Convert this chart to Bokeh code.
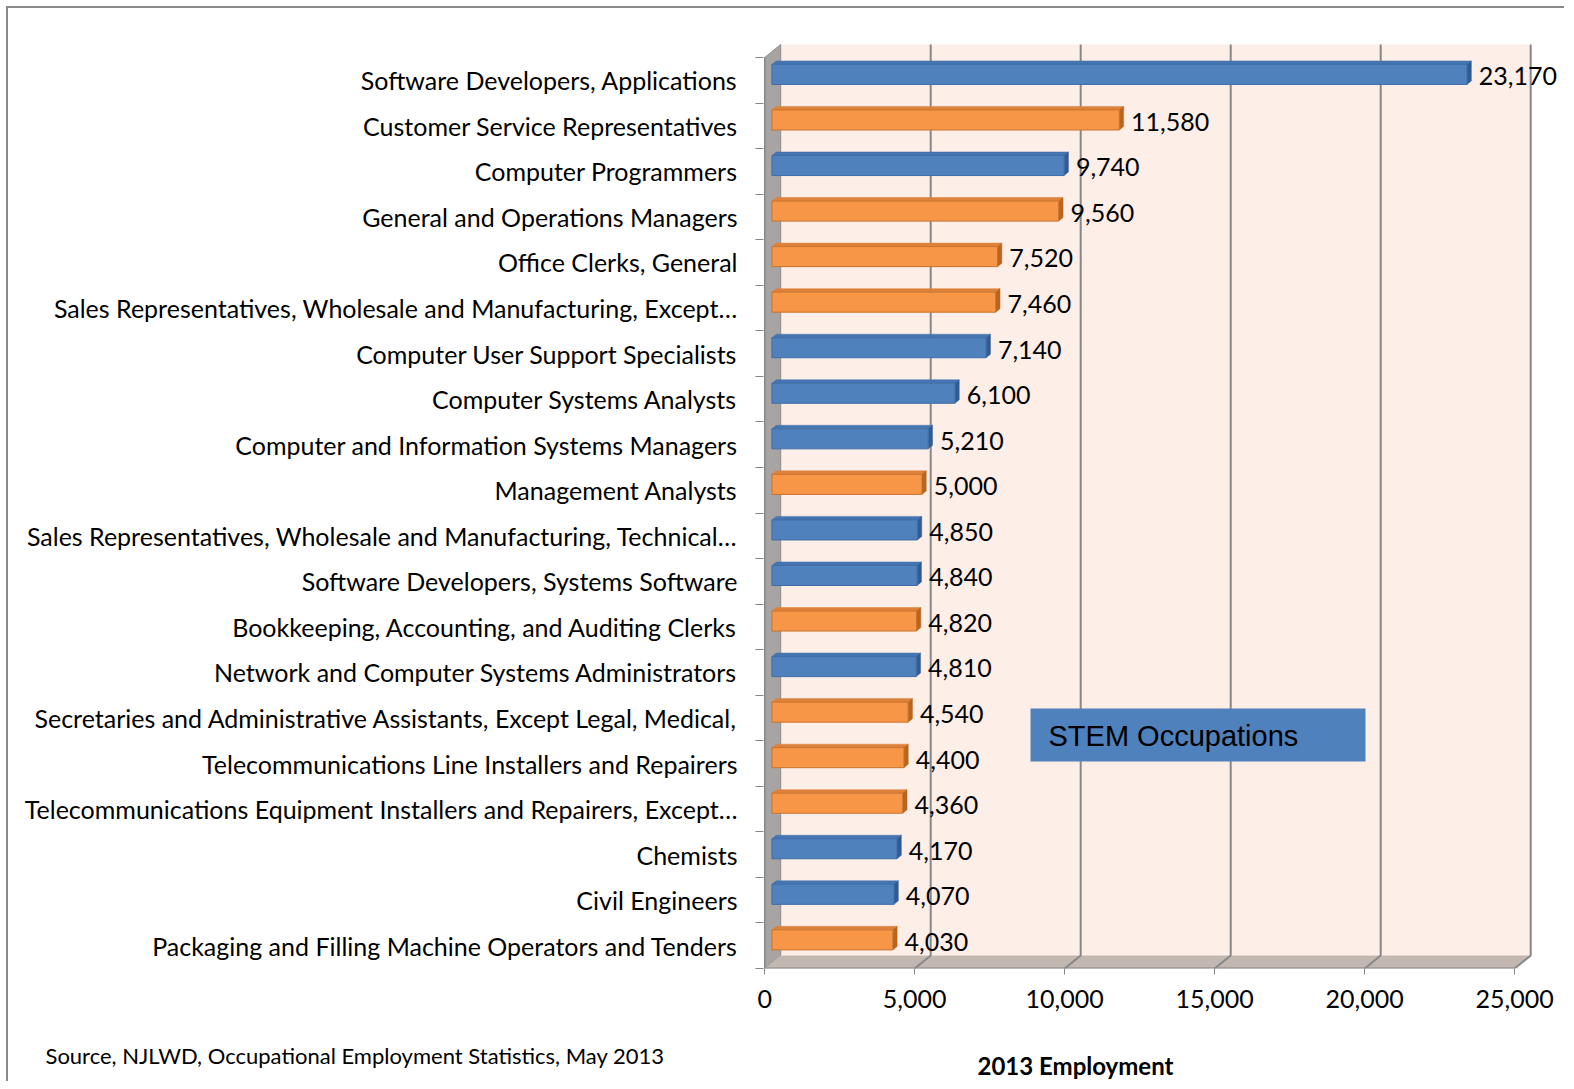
from bokeh.plotting import figure
from bokeh.models import ColumnDataSource, FixedTicker, NumeralTickFormatter, Label, BoxAnnotation, Range1d
from bokeh.core.properties import value
from bokeh.embed import file_html
from bokeh.resources import INLINE

# ---------------- data (top to bottom) ----------------
occupations = [
    "Software Developers, Applications",
    "Customer Service Representatives",
    "Computer Programmers",
    "General and Operations Managers",
    "Office Clerks, General",
    "Sales Representatives, Wholesale and Manufacturing, Except\u2026",
    "Computer User Support Specialists",
    "Computer Systems Analysts",
    "Computer and Information Systems Managers",
    "Management Analysts",
    "Sales Representatives, Wholesale and Manufacturing, Technical\u2026",
    "Software Developers, Systems Software",
    "Bookkeeping, Accounting, and Auditing Clerks",
    "Network and Computer Systems Administrators",
    "Secretaries and Administrative Assistants, Except Legal, Medical,",
    "Telecommunications Line Installers and Repairers",
    "Telecommunications Equipment Installers and Repairers, Except\u2026",
    "Chemists",
    "Civil Engineers",
    "Packaging and Filling Machine Operators and Tenders",
]
employment = [23170, 11580, 9740, 9560, 7520, 7460, 7140, 6100, 5210, 5000,
              4850, 4840, 4820, 4810, 4540, 4400, 4360, 4170, 4070, 4030]
is_stem = [True, False, True, False, False, False, True, True, True, False,
           True, True, False, True, False, False, False, True, True, False]
x_ticks = [0, 5000, 10000, 15000, 20000, 25000]
x_title = "2013 Employment"
source_note = "Source, NJLWD, Occupational Employment Statistics, May 2013"
legend_text = "STEM Occupations"

# ---------------- styling ----------------
FONT = "Lato"
STEM_FACE, STEM_TOP, STEM_CAP, STEM_EDGE = "#4F81BD", "#4674B0", "#2F5C93", "#3F6DA8"
OTH_FACE, OTH_TOP, OTH_CAP, OTH_EDGE = "#F79646", "#DE813A", "#B7651F", "#C9732F"
WALL = "#FDEEE7"
GRID = "#878787"

n = len(occupations)
ypos = [n - 1 - i for i in range(n)]
XMAX = x_ticks[-1]

PX_X = 0.03          # pixels per data unit in x
PX_Y = 45.55         # pixels per category
DX = 16 / PX_X       # depth offset in x data units
DY = 13 / PX_Y       # depth offset in y data units
f1, f2 = 0.45, 0.72
h = 0.22
dd = (f2 - f1) * DY

face_l, face_r, face_b, face_t, face_c, edge_c = [], [], [], [], [], []
top_xs, top_ys, top_c, cap_xs, cap_ys, cap_c = [], [], [], [], [], []
for v, y, s in zip(employment, ypos, is_stem):
    yc = y + f1 * DY
    yb, yt = yc - h, yc + h
    x0, x1 = f1 * DX, v + f1 * DX
    face_l.append(x0); face_r.append(x1); face_b.append(yb); face_t.append(yt)
    face_c.append(STEM_FACE if s else OTH_FACE)
    edge_c.append(STEM_EDGE if s else OTH_EDGE)
    top_xs.append([x0, x1, v + f2 * DX, f2 * DX])
    top_ys.append([yt, yt, yt + dd, yt + dd])
    top_c.append(STEM_TOP if s else OTH_TOP)
    cap_xs.append([x1, x1, v + f2 * DX, v + f2 * DX])
    cap_ys.append([yb, yt, yt + dd, yb + dd])
    cap_c.append(STEM_CAP if s else OTH_CAP)

x_start = -40
frame_w = 796
frame_h = 928
x_end = x_start + frame_w / PX_X
y_start = -0.5
y_end = y_start + frame_h / PX_Y

p = figure(frame_width=frame_w, frame_height=frame_h,
           x_range=Range1d(x_start, x_end), y_range=Range1d(y_start, y_end),
           output_backend="svg", toolbar_location=None,
           min_border_left=755, min_border_right=7, min_border_top=32, min_border_bottom=115)
p.margin = (8, 0, 0, 8)
p.styles = {"box-shadow": "-2px -2px 0 0 #8a8a8a"}
p.outline_line_color = None
p.background_fill_color = "white"
p.border_fill_color = "white"
p.xgrid.visible = False
p.ygrid.visible = False

# back wall
p.quad(left=[DX], right=[XMAX + DX], bottom=[-0.5 + DY], top=[n - 0.5 + DY],
       fill_color=WALL, line_color=None)
# left wall
p.patch(x=[0, 0, DX, DX], y=[-0.5, n - 0.5, n - 0.5 + DY, -0.5 + DY],
        fill_color="#A7A4A3", line_color="#8C8C8C", line_width=1)
# floor
p.patch(x=[0, XMAX, XMAX + DX, DX], y=[-0.5, -0.5, -0.5 + DY, -0.5 + DY],
        fill_color="#C3B7B1", line_color=None)
# gridlines on wall + floor
g_xs = [[t + DX, t + DX, t] for t in x_ticks[1:]]
g_ys = [[n - 0.5 + DY, -0.5 + DY, -0.5] for _ in x_ticks[1:]]
p.multi_line(xs=g_xs, ys=g_ys, line_color=GRID, line_width=2)
# front edges
p.line(x=[0, XMAX], y=[-0.5, -0.5], line_color=GRID, line_width=2)
p.line(x=[0, 0], y=[-0.5, n - 0.5], line_color=GRID, line_width=1.5)

# bars
p.patches(xs=top_xs, ys=top_ys, fill_color=top_c, line_color=top_c, line_width=0.5)
p.patches(xs=cap_xs, ys=cap_ys, fill_color=cap_c, line_color=cap_c, line_width=0.5)
src = ColumnDataSource(dict(left=face_l, right=face_r, bottom=face_b, top=face_t,
                            color=face_c, edge=edge_c))
p.quad(left="left", right="right", bottom="bottom", top="top", source=src,
       fill_color="color", line_color="edge", line_width=1)

# value labels
p.text(x=employment, y=ypos, text=[f"{v:,}" for v in employment],
       x_offset=19, y_offset=-4, text_baseline="middle", text_align="left",
       text_font=value(FONT), text_font_size="25px", text_color="black")

# axes
yax = p.yaxis[0]
yax.ticker = FixedTicker(ticks=ypos, minor_ticks=[k - 0.5 for k in range(n + 1)])
yax.major_label_overrides = {y: name for y, name in zip(ypos, occupations)}
yax.major_tick_out = 0
yax.major_tick_in = 0
yax.minor_tick_out = 8
yax.minor_tick_in = 0
yax.minor_tick_line_color = GRID
yax.major_tick_line_color = None
yax.axis_line_color = None
yax.major_label_standoff = 18
yax.major_label_text_font = FONT
yax.major_label_text_font_size = "25px"
yax.major_label_text_color = "black"

xax = p.xaxis[0]
xax.ticker = FixedTicker(ticks=x_ticks, minor_ticks=[])
xax.formatter = NumeralTickFormatter(format="0,0")
xax.major_tick_out = 6
xax.major_tick_in = 0
xax.major_tick_line_color = GRID
xax.axis_line_color = None
xax.major_label_standoff = 15
xax.major_label_text_font = FONT
xax.major_label_text_font_size = "25px"
xax.major_label_text_color = "black"

# legend box
p.add_layout(BoxAnnotation(left=8860, right=20027, bottom=4.044, top=5.208,
                           fill_color=STEM_FACE, fill_alpha=1, line_color=None))
p.add_layout(Label(x=9460, y=4.615, text=legend_text, text_baseline="middle",
                   text_font="Liberation Sans", text_font_size="29px", text_color="black"))

# axis title and source note (in the panel below the axis, so they are not clipped)
p.add_layout(Label(x=10360, y=-2.63, text=x_title, text_align="center", text_baseline="middle",
                   text_font=FONT, text_font_size="24px", text_font_style="bold",
                   text_color="black"), "below")
p.add_layout(Label(x=-23973, y=-2.41, text=source_note, text_align="left", text_baseline="middle",
                   text_font=FONT, text_font_size="22px", text_color="black"), "below")

open("out.html", "w").write(file_html(p, INLINE))
